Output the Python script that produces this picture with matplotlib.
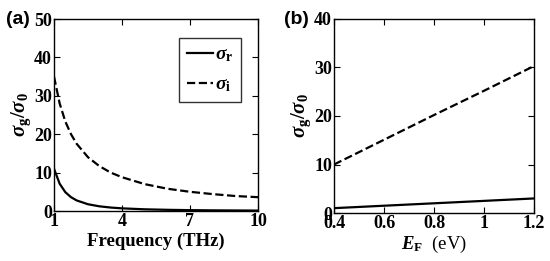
import matplotlib
matplotlib.use("Agg")
import matplotlib.pyplot as plt

plt.rcParams['font.family'] = 'Liberation Serif'
plt.rcParams['font.weight'] = 'bold'
plt.rcParams['mathtext.fontset'] = 'custom'
plt.rcParams['mathtext.rm'] = 'Liberation Serif:bold'
plt.rcParams['mathtext.it'] = 'Liberation Serif:italic:bold'
plt.rcParams['mathtext.bf'] = 'Liberation Serif:bold'

# Panel (a)
freq = [1, 1.25, 1.5, 1.75, 2, 2.5, 3, 3.5, 4, 5, 6, 7, 8, 9, 10]
sigma_r_a = [11, 7.1, 4.9, 3.6, 2.75, 1.76, 1.22, 0.9, 0.69, 0.44, 0.31, 0.22, 0.17, 0.14, 0.11]
sigma_i_a = [35, 28, 23.3, 20, 17.5, 14, 11.7, 10, 8.8, 7, 5.8, 5, 4.4, 3.9, 3.6]
# Panel (b)
ef = [0.4, 0.6, 0.8, 1.0, 1.2]
sigma_r_b = [1.0, 1.5, 2.0, 2.5, 3.0]
sigma_i_b = [10.0, 15.1, 20.2, 25.2, 30.3]

fig = plt.figure(figsize=(5.5, 2.61), dpi=100)
W, H = 550, 261
axa = fig.add_axes([54 / W, 1 - 211 / H, (258 - 54) / W, (211 - 19) / H])
axb = fig.add_axes([334 / W, 1 - 213 / H, (534 - 334) / W, (213 - 19) / H])

fs = 13
for ax in (axa, axb):
    ax.tick_params(direction='in', top=True, right=True, labelsize=fs, length=4, width=0.8, pad=1.5)
    for s in ax.spines.values():
        s.set_linewidth(1.0)

axa.plot(freq, sigma_r_a, 'k-', lw=1.6, label=r'$\sigma_{\mathbf{r}}$')
axa.plot(freq, sigma_i_a, 'k--', lw=1.6, label=r'$\sigma_{\mathbf{i}}$')
axa.set_xlim(1, 10)
axa.set_ylim(0, 50)
axa.set_xticks([1, 4, 7, 10])
axa.set_yticks([0, 10, 20, 30, 40, 50])
axa.set_xlabel('Frequency (THz)', fontsize=13.5, fontweight='bold', labelpad=2)
axa.set_ylabel(r'$\sigma_{\mathbf{g}}/\sigma_{\mathbf{0}}$', fontsize=15, labelpad=1)
leg = axa.legend(loc='upper left', fontsize=14, frameon=True, fancybox=False,
                 edgecolor='k', handlelength=1.35, handletextpad=0.1, borderpad=0.4,
                 labelspacing=0.6, borderaxespad=0,
                 bbox_to_anchor=((179 - 54) / 204, 1 - (38 - 19) / 192))
leg.get_frame().set_linewidth(1.0)

axb.plot(ef, sigma_r_b, 'k-', lw=1.6)
axb.plot(ef, sigma_i_b, 'k--', lw=1.6)
axb.set_xlim(0.4, 1.2)
axb.set_ylim(0, 40)
axb.set_xticks([0.4, 0.6, 0.8, 1.0, 1.2])
axb.set_xticklabels(['0.4', '0.6', '0.8', '1', '1.2'])
axb.set_yticks([0, 10, 20, 30, 40])
axb.set_xlabel(r'$E_{\mathbf{F}}$  (eV)', fontsize=13.5, labelpad=1)
axb.set_ylabel(r'$\sigma_{\mathbf{g}}/\sigma_{\mathbf{0}}$', fontsize=15, labelpad=1)

fig.text(6 / W, 1 - 19 / H, '(a)', fontsize=14, fontweight='bold', family='Liberation Sans', va='center')
fig.text(284 / W, 1 - 19 / H, '(b)', fontsize=14, fontweight='bold', family='Liberation Sans', va='center')

fig.savefig('out.png', dpi=100)
